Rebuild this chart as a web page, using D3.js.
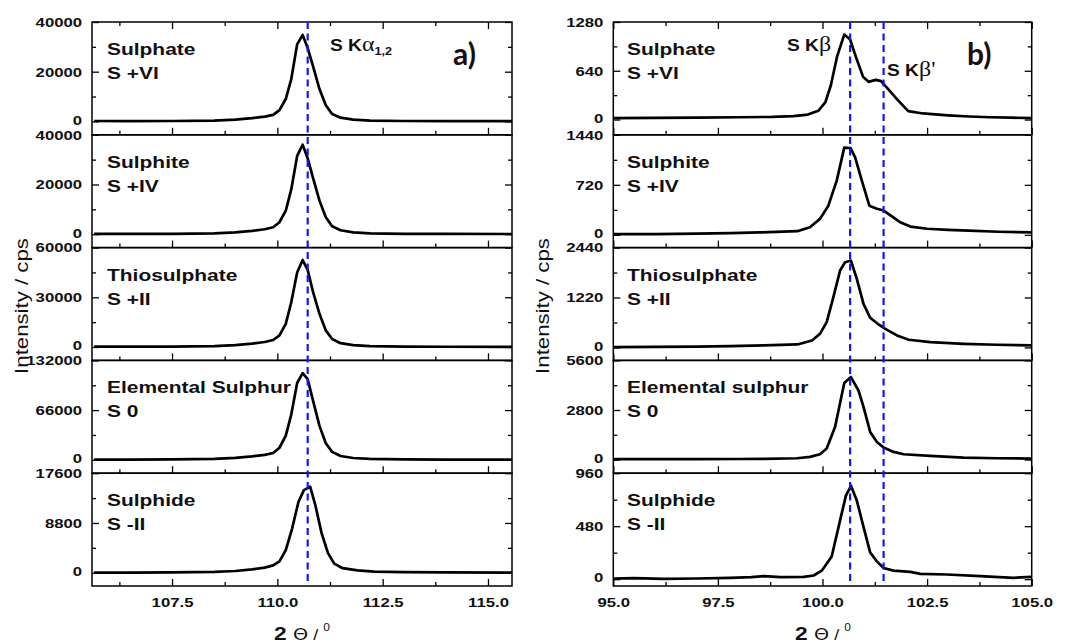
<!DOCTYPE html>
<html>
<head>
<meta charset="utf-8">
<script src="https://cdn.jsdelivr.net/npm/d3@7"></script>
<style>
  body { margin: 0; background: #fff; }
  svg { display: block; }
  text { font-family: "Liberation Sans", Arial, sans-serif; }
</style>
</head>
<body>
<svg id="chart" width="1072" height="643"></svg>
<script>
// ---- S Kα1,2 region (2θ in degrees, intensity in cps) ----
const kaSulphate = [[105.65,150],[106.5,120],[107.5,150],[108.5,300],[109.0,700],[109.4,1300],[109.7,1900],[109.9,2600],[110.05,4500],[110.2,9000],[110.33,17000],[110.47,31000],[110.6,34800],[110.72,29500],[110.85,22000],[111.0,13000],[111.15,6500],[111.3,3000],[111.5,1500],[111.8,700],[112.2,300],[113.0,150],[114.0,100],[115.57,80]];
const kaSulphite = [[105.65,100],[106.5,100],[107.5,150],[108.5,300],[109.0,700],[109.4,1300],[109.7,2000],[109.9,2800],[110.05,4800],[110.2,9500],[110.33,18000],[110.47,31500],[110.6,36000],[110.72,30500],[110.85,22500],[111.0,13500],[111.15,6800],[111.3,3200],[111.5,1600],[111.8,700],[112.2,300],[113.0,150],[114.0,100],[115.57,80]];
const kaThiosulphate = [[105.65,200],[106.5,200],[107.5,250],[108.5,500],[109.0,1100],[109.4,2000],[109.7,3000],[109.9,4200],[110.05,7000],[110.2,14000],[110.33,27000],[110.47,45000],[110.6,52500],[110.72,46500],[110.85,33000],[111.0,20000],[111.15,10000],[111.3,4800],[111.5,2300],[111.8,1100],[112.2,500],[113.0,250],[114.0,150],[115.57,100]];
const kaElemental = [[105.65,300],[106.5,300],[107.5,500],[108.5,1100],[109.0,2500],[109.4,4500],[109.7,6500],[109.9,9000],[110.05,16000],[110.2,32000],[110.33,60000],[110.47,102000],[110.6,115000],[110.72,107000],[110.85,78000],[111.0,45000],[111.15,22000],[111.3,10500],[111.5,5000],[111.8,2400],[112.2,1100],[113.0,500],[114.0,300],[115.57,200]];
const kaSulphide = [[105.65,0],[106.5,20],[107.5,50],[108.5,150],[109.0,300],[109.4,600],[109.7,900],[109.9,1300],[110.05,2000],[110.2,4000],[110.35,7800],[110.5,12500],[110.63,14600],[110.78,15200],[110.9,12000],[111.05,7000],[111.2,3500],[111.35,1600],[111.55,800],[111.9,400],[112.3,200],[113.0,100],[114.0,50],[115.57,30]];

// ---- S Kβ region ----
const kbSulphate = [[95.0,20],[96.0,22],[97.0,25],[98.0,30],[98.8,35],[99.3,45],[99.65,65],[99.9,115],[100.07,230],[100.2,450],[100.35,830],[100.52,1115],[100.66,1050],[100.8,820],[100.97,560],[101.1,495],[101.27,520],[101.4,505],[101.57,400],[101.8,255],[102.05,110],[102.4,80],[103.0,55],[103.5,40],[104.0,30],[104.5,25],[105.0,20]];
const kbSulphite = [[95.0,10],[96.0,12],[97.0,18],[97.8,24],[98.5,35],[99.4,53],[99.7,110],[99.94,230],[100.14,420],[100.34,780],[100.52,1255],[100.67,1250],[100.78,1115],[100.94,780],[101.12,420],[101.3,375],[101.46,350],[101.66,265],[101.86,180],[102.1,120],[102.5,88],[103.0,72],[103.5,60],[104.2,45],[105.0,35]];
const kbThiosulphate = [[95.0,8],[96.0,12],[97.0,20],[97.8,33],[98.6,50],[99.4,73],[99.75,170],[99.94,333],[100.1,618],[100.26,1228],[100.42,1879],[100.54,2082],[100.68,2123],[100.82,1675],[100.98,1065],[101.14,724],[101.34,561],[101.5,455],[101.78,293],[102.06,187],[102.58,130],[103.37,89],[104.17,65],[105.0,49]];
const kbElemental = [[95.0,20],[96.0,22],[97.0,28],[98.0,32],[98.6,38],[99.39,75],[99.7,150],[99.94,300],[100.1,620],[100.3,1840],[100.52,4320],[100.68,4660],[100.86,3900],[100.98,2970],[101.14,1560],[101.3,996],[101.46,676],[101.7,432],[101.94,300],[102.57,207],[103.37,113],[104.17,75],[105.0,56]];
const kbSulphide = [[95.0,6],[95.5,9],[96.2,2],[97.0,6],[97.79,12],[98.3,18],[98.6,27],[99.0,18],[99.55,21],[99.79,33],[99.99,80],[100.22,205],[100.42,533],[100.56,757],[100.68,846],[100.82,712],[100.98,474],[101.14,241],[101.3,161],[101.46,101],[101.7,77],[102.1,66],[102.34,48],[102.97,42],[103.77,27],[104.57,12],[105.0,21]];

const kaSeries = [kaSulphate, kaSulphite, kaThiosulphate, kaElemental, kaSulphide];
const kbSeries = [kbSulphate, kbSulphite, kbThiosulphate, kbElemental, kbSulphide];

// compound names and sulphur oxidation states, top to bottom
const kaNames = ["Sulphate", "Sulphite", "Thiosulphate", "Elemental Sulphur", "Sulphide"];
const kbNames = ["Sulphate", "Sulphite", "Thiosulphate", "Elemental sulphur", "Sulphide"];
const oxStates = ["S +VI", "S +IV", "S +II", "S 0", "S -II"];

// y tick labels per panel
const kaYTicks = [[0,20000,40000],[0,20000,40000],[0,30000,60000],[0,66000,132000],[0,8800,17600]];
const kbYTicks = [[0,640,1280],[0,720,1440],[0,1220,2440],[0,2800,5600],[0,480,960]];
// lower end of each panel's intensity axis
const kaYLow = [-5400, -5400, -8100, -17800, -2350];
const kbYLow = [-200, -183, -317, -770, -62];

// x ticks
const kaXTicks = [107.5, 110.0, 112.5, 115.0];
const kaXMinor = [106.25, 108.75, 111.25, 113.75];
const kbXTicks = [95.0, 97.5, 100.0, 102.5, 105.0];
const kbXMinor = [96.25, 98.75, 101.25, 103.75];

// reference line positions (2θ)
const kaLines = [110.72];
const kbLines = [100.66, 101.46];

// ---------------- drawing ----------------
const svg = d3.select("#chart");
const plotTop = 22, plotBottom = 586, nPanels = 5;
const panelH = (plotBottom - plotTop) / nPanels;
const SX = 1.2;      // horizontal widening of lettering
const fmtInt = d3.format("d");
const fmt1 = d3.format(".1f");

const sides = [
  { x0: 92, x1: 512, domain: [105.6, 115.57], xTicks: kaXTicks, xMinor: kaXMinor,
    series: kaSeries, yTicks: kaYTicks, yLow: kaYLow, names: kaNames, lines: kaLines,
    nameX: 107, titleX: 302, yTitleX: 28 },
  { x0: 613.3, x1: 1031.7, domain: [95, 105], xTicks: kbXTicks, xMinor: kbXMinor,
    series: kbSeries, yTicks: kbYTicks, yLow: kbYLow, names: kbNames, lines: kbLines,
    nameX: 627, titleX: 823, yTitleX: 549 }
];

function styleAxis(g) {
  g.select(".domain").remove();
  g.selectAll(".tick line").attr("stroke", "#000").attr("stroke-width", 1.3);
  g.selectAll(".tick text")
    .attr("fill", "#111")
    .style("font-size", "13.5px")
    .style("font-weight", "bold")
    .attr("transform", `scale(${1.24},1)`);
}

sides.forEach(side => {
  const x = d3.scaleLinear().domain(side.domain).range([side.x0, side.x1]);
  const root = svg.append("g");

  side.series.forEach((data, i) => {
    const top = plotTop + i * panelH, bottom = top + panelH;
    const ticks = side.yTicks[i];
    const yMax = ticks[ticks.length - 1];
    const y = d3.scaleLinear().domain([side.yLow[i], yMax]).range([bottom, top]);
    const minor = d3.pairs(ticks).map(([a, b]) => (a + b) / 2);
    const g = root.append("g");

    // y axes: labelled left, mirrored right, ticks pointing inward
    g.append("g").attr("transform", `translate(${side.x0},0)`)
      .call(d3.axisLeft(y).tickValues(ticks).tickSize(-7).tickSizeOuter(0).tickPadding(8).tickFormat(fmtInt))
      .call(styleAxis)
      .call(a => a.selectAll(".tick text").filter(d => d === 0).attr("y", -1.5));
    g.append("g").attr("transform", `translate(${side.x0},0)`)
      .call(d3.axisLeft(y).tickValues(minor).tickSize(-4).tickSizeOuter(0).tickFormat(""))
      .call(styleAxis);
    g.append("g").attr("transform", `translate(${side.x1},0)`)
      .call(d3.axisRight(y).tickValues(ticks).tickSize(-7).tickSizeOuter(0).tickFormat(""))
      .call(styleAxis);
    g.append("g").attr("transform", `translate(${side.x1},0)`)
      .call(d3.axisRight(y).tickValues(minor).tickSize(-4).tickSizeOuter(0).tickFormat(""))
      .call(styleAxis);

    // x axes along the bottom of each panel; labels only under the last one
    const last = i === nPanels - 1;
    g.append("g").attr("transform", `translate(0,${bottom})`)
      .call(d3.axisBottom(x).tickValues(side.xTicks).tickSize(-7).tickSizeOuter(0).tickPadding(11)
        .tickFormat(last ? fmt1 : ""))
      .call(styleAxis);
    g.append("g").attr("transform", `translate(0,${bottom})`)
      .call(d3.axisBottom(x).tickValues(side.xMinor).tickSize(-4).tickSizeOuter(0).tickFormat(""))
      .call(styleAxis);
    if (i === 0) {
      g.append("g").attr("transform", `translate(0,${top})`)
        .call(d3.axisTop(x).tickValues(side.xTicks).tickSize(-7).tickSizeOuter(0).tickFormat(""))
        .call(styleAxis);
      g.append("g").attr("transform", `translate(0,${top})`)
        .call(d3.axisTop(x).tickValues(side.xMinor).tickSize(-4).tickSizeOuter(0).tickFormat(""))
        .call(styleAxis);
    }

    // panel frame
    g.append("rect")
      .attr("x", side.x0).attr("y", top)
      .attr("width", side.x1 - side.x0).attr("height", panelH)
      .attr("fill", "none").attr("stroke", "#000").attr("stroke-width", 1.5);

    // spectrum
    g.append("path")
      .datum(data)
      .attr("d", d3.line().x(d => x(d[0])).y(d => y(d[1])))
      .attr("fill", "none")
      .attr("stroke", "#000")
      .attr("stroke-width", 2.7)
      .attr("stroke-linejoin", "round");

    // compound name and oxidation state
    [side.names[i], oxStates[i]].forEach((t, k) => {
      g.append("text")
        .attr("transform", `translate(${side.nameX},${top + 33 + k * 24}) scale(1.27,1)`)
        .style("font-size", "16.5px").style("font-weight", "bold")
        .attr("fill", "#111")
        .text(t);
    });
  });

  // dashed reference lines through all panels
  root.selectAll("line.ref").data(side.lines).join("line")
    .attr("class", "ref")
    .attr("x1", d => x(d)).attr("x2", d => x(d))
    .attr("y1", plotTop).attr("y2", plotBottom)
    .attr("stroke", "#1414ff").attr("stroke-width", 2.2)
    .attr("stroke-dasharray", "7,4.5");

  // axis titles
  root.append("text")
    .attr("transform", `translate(${side.yTitleX},${(plotTop + plotBottom) / 2 + 2}) rotate(-90) scale(1.17,1)`)
    .attr("text-anchor", "middle")
    .style("font-size", "19px")
    .attr("fill", "#111")
    .text("Intensity / cps");

  const xt = root.append("text")
    .attr("transform", `translate(${side.titleX},640) scale(${SX},1)`)
    .attr("text-anchor", "middle")
    .attr("fill", "#111");
  xt.append("tspan").style("font-size", "19px").style("font-weight", "bold").text("2 ");
  xt.append("tspan").style("font-size", "16px").style("font-family", "'DejaVu Sans', sans-serif").text("Θ");
  xt.append("tspan").style("font-size", "15px").text(" / ");
  xt.append("tspan").style("font-size", "10px").attr("dy", -9).text("0");
});

// line annotations
function annot(x, y, base, greek, sub) {
  const t = svg.append("text")
    .attr("transform", `translate(${x},${y}) scale(${SX},1)`)
    .attr("fill", "#111");
  t.append("tspan").style("font-size", "16px").style("font-weight", "bold").text(base);
  t.append("tspan").style("font-size", "20px").style("font-family", "'Liberation Serif', serif").text(greek);
  if (sub) t.append("tspan").style("font-size", "10.5px").style("font-weight", "bold").attr("dy", 4).text(sub);
}
annot(330, 51, "S K", "α", "1,2");
annot(787, 51, "S K", "β", null);
annot(887, 76, "S K", "β'", null);

// panel letters
[["a)", 453], ["b)", 967]].forEach(([t, x]) => {
  svg.append("text")
    .attr("x", x).attr("y", 65)
    .style("font-family", "Lato, 'Open Sans', sans-serif")
    .style("font-size", "30px").style("font-weight", "bold")
    .attr("fill", "#1c0e0e")
    .text(t);
});
</script>
</body>
</html>
